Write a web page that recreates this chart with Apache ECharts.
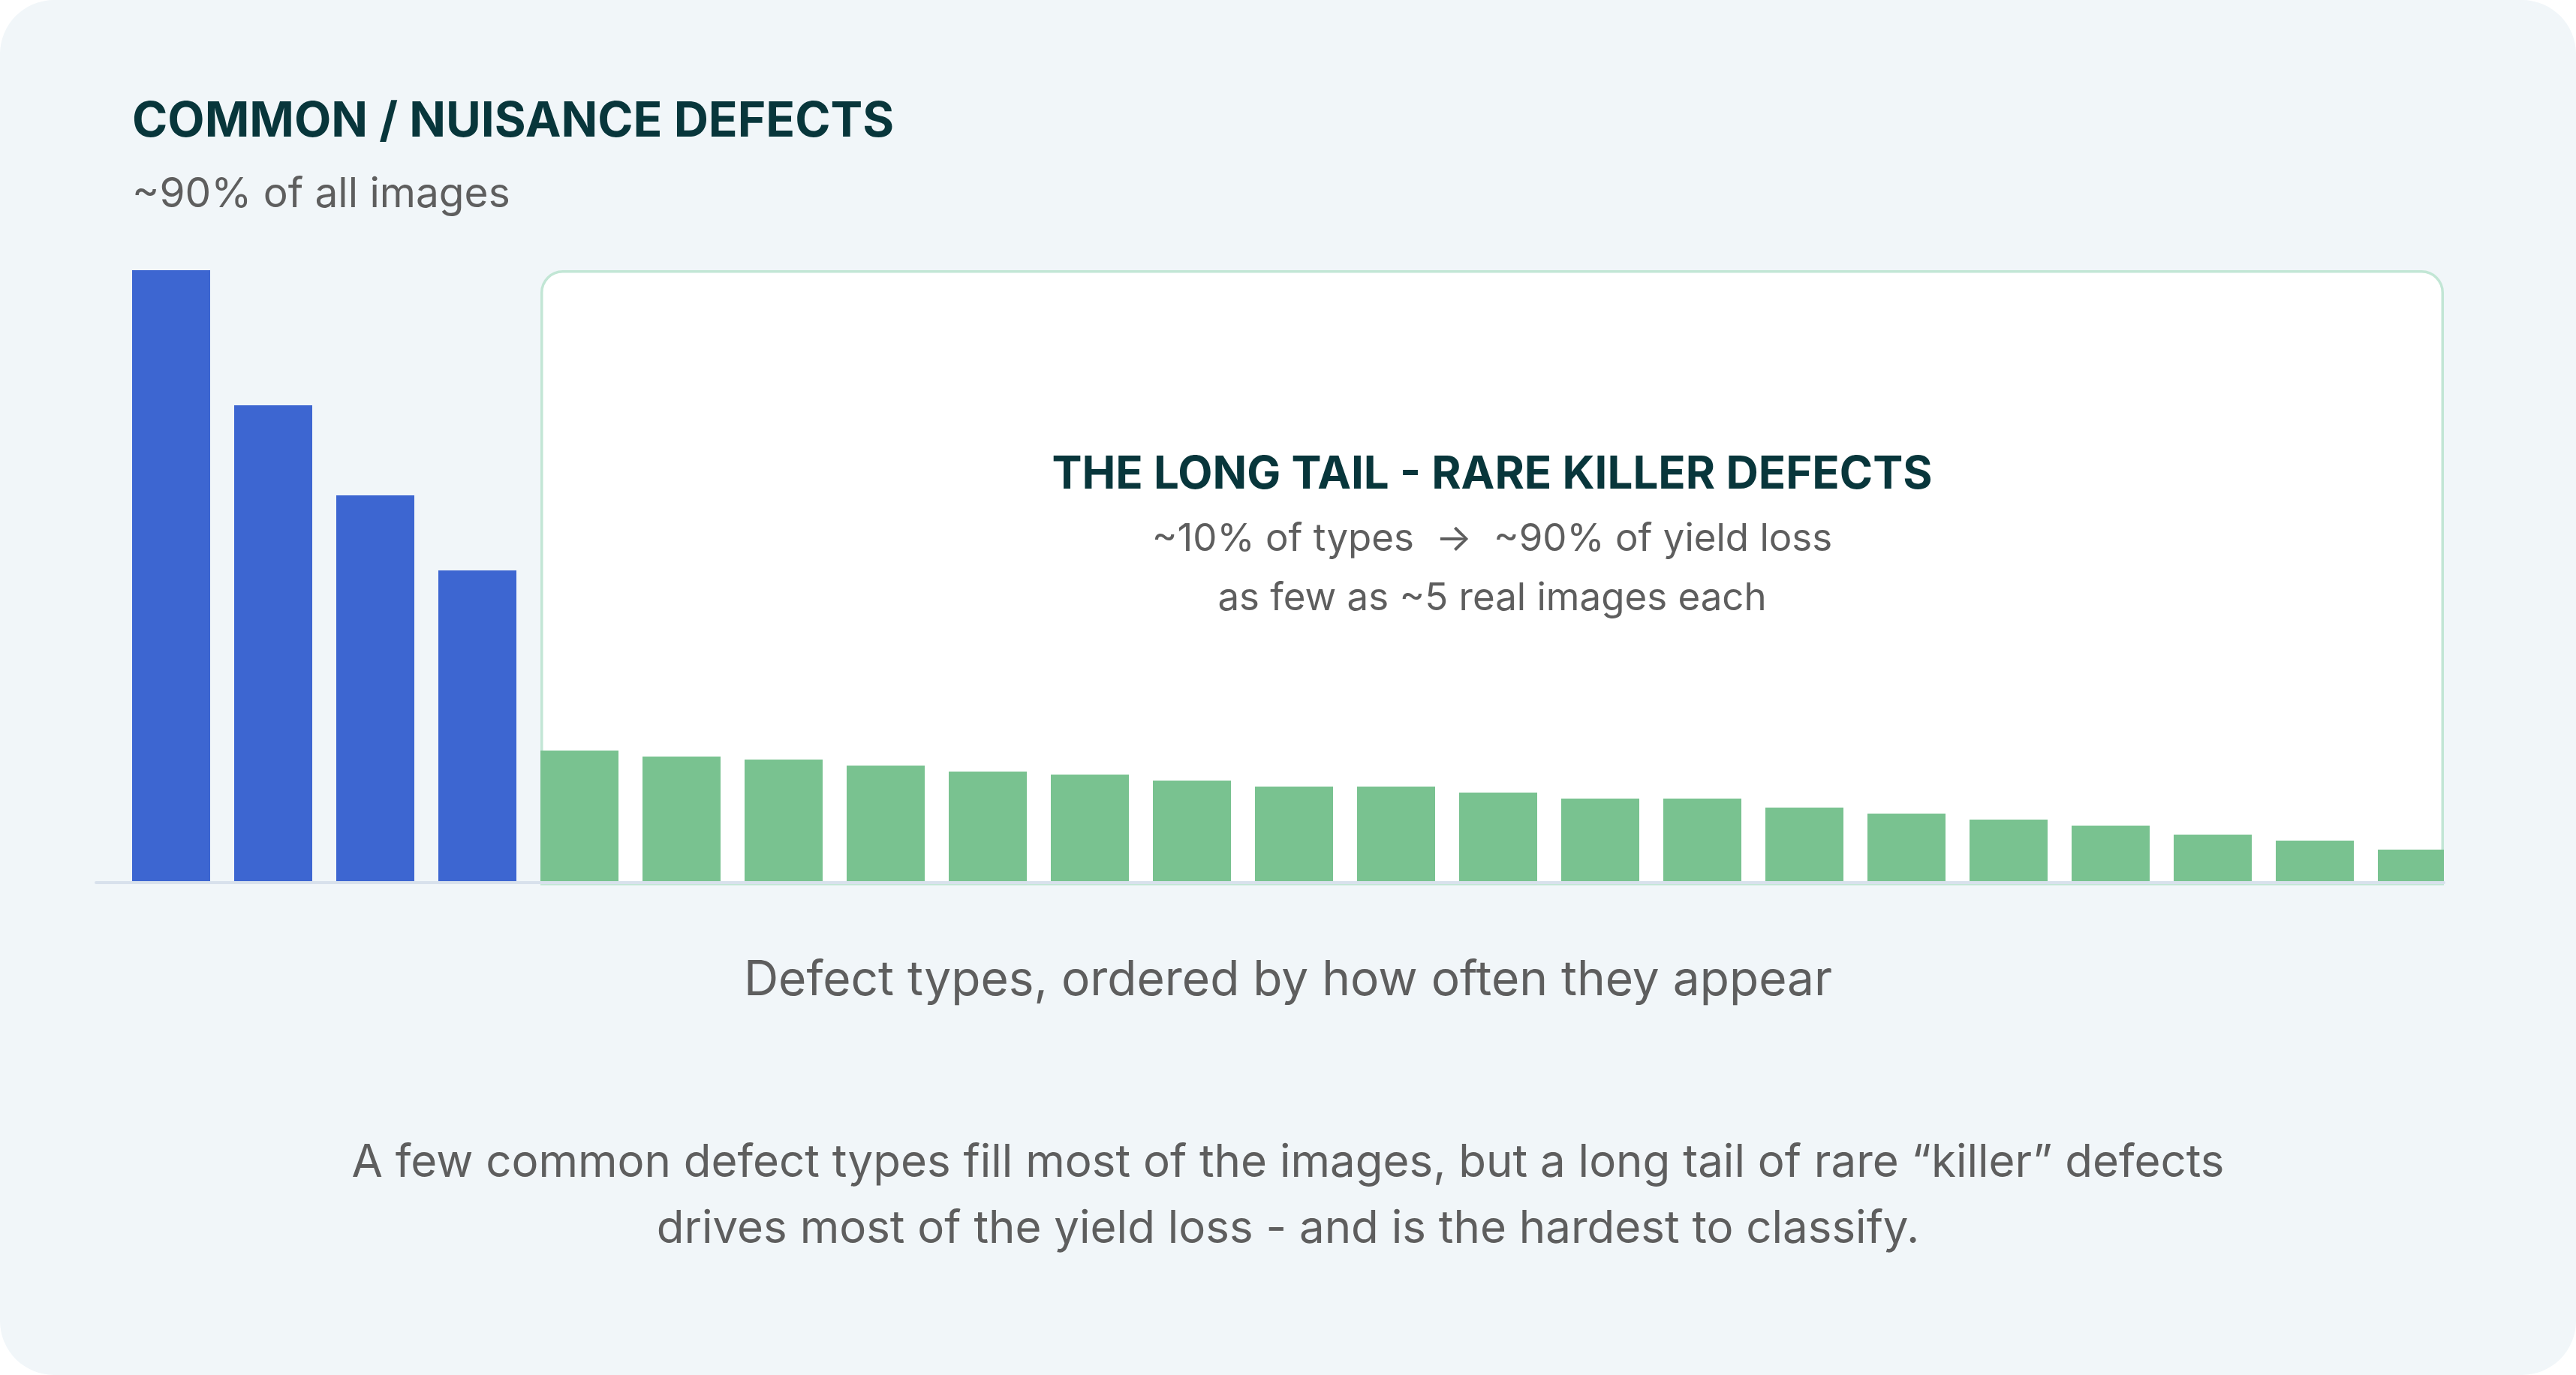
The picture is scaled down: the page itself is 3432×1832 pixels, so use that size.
<!DOCTYPE html>
<html><head><meta charset="utf-8">
<script src="https://cdn.jsdelivr.net/npm/echarts@6/dist/echarts.min.js"></script>
<style>
html,body{margin:0;padding:0;background:#ffffff;}
#chart{width:3432px;height:1832px;border-radius:72px;background:#f1f6f9;overflow:hidden;}
</style></head><body><div id="chart"></div>
<script>
// ---- data ----
const commonTitle = 'COMMON / NUISANCE DEFECTS';
const commonSub = '~90% of all images';
const tailTitle = 'THE LONG TAIL - RARE KILLER DEFECTS';
const tailLines = ['~10% of types  \u2192  ~90% of yield loss', 'as few as ~5 real images each'];
const axisTitle = 'Defect types, ordered by how often they appear';
const captionLines = [
  'A few common defect types fill most of the images, but a long tail of rare \u201ckiller\u201d defects',
  'drives most of the yield loss - and is the hardest to classify.'
];
const commonCounts = [102, 79.5, 64.5, 52];
const tailCounts = [22, 21, 20.5, 19.5, 18.5, 18, 17, 16, 16, 15, 14, 14, 12.5, 11.5, 10.5, 9.5, 8, 7, 5.5];

// ---- chart ----
const BLUE = '#3d66d1', GREEN = '#79c290', DARK = '#08363b', GRAY = '#5e5e5e', BG = '#f1f6f9';
const FONT = 'Inter';
const allCounts = commonCounts.concat(tailCounts);
const xMin = -0.7353, xMax = xMin + allCounts.length;
const yMax = Math.max.apply(null, allCounts);
const BW = 104;

const chart = echarts.init(document.getElementById('chart'), null, {renderer: 'svg'});
chart.setOption({
  backgroundColor: 'transparent',
  animation: false,
  grid: {left: 128, right: 176, top: 360, bottom: 656},
  xAxis: {
    type: 'value', min: xMin, max: xMax, offset: 2, z: 6,
    axisLine: {show: true, lineStyle: {color: '#d8e1ec', width: 4}},
    axisTick: {show: false}, axisLabel: {show: false}, splitLine: {show: false}
  },
  yAxis: {type: 'value', min: 0, max: yMax, show: false, splitLine: {show: false}},
  series: [{
    type: 'bar', barWidth: BW, clip: true, z: 3,
    data: allCounts.map((v, i) => ({value: [i, v], itemStyle: {color: i < commonCounts.length ? BLUE : GREEN}}))
  }]
});

const x0 = chart.convertToPixel({xAxisIndex: 0}, commonCounts.length) - BW / 2;
const x1 = chart.convertToPixel({xAxisIndex: 0}, xMax);
const yTop = chart.convertToPixel({yAxisIndex: 0}, yMax);
const yBot = chart.convertToPixel({yAxisIndex: 0}, 0);
const cx = (x0 + x1) / 2;
const pageCx = 3432 / 2;

function txt(x, y, s, size, weight, color, align) {
  return {type: 'text', x: x, y: y, z: 10, silent: true,
    style: {text: s, fontFamily: FONT, fontSize: size, fontWeight: weight, fill: color,
      align: align || 'center', verticalAlign: 'middle'}};
}

chart.setOption({
  graphic: [
    {type: 'rect', z: 0, silent: true,
      shape: {x: x0 + 1.75, y: yTop + 1.75, width: x1 - x0 - 3.5, height: yBot - yTop, r: [28, 28, 0, 0]},
      style: {fill: '#ffffff', stroke: '#c2e6d5', lineWidth: 3.5}},
    // clip the plot at the end of the axis
    {type: 'rect', z: 5, silent: true,
      shape: {x: x1, y: yTop, width: BW, height: yBot - yTop + 6},
      style: {fill: BG}},
    txt(176, 158, commonTitle, 64, 700, DARK, 'left'),
    txt(176, 256, commonSub, 55, 400, GRAY, 'left'),
    txt(cx, 629, tailTitle, 60, 700, DARK),
    txt(cx, 715, tailLines[0], 51, 400, GRAY),
    txt(cx, 794, tailLines[1], 51, 400, GRAY),
    txt(pageCx, 1302, axisTitle, 64, 400, GRAY),
    txt(pageCx, 1546, captionLines[0], 60, 400, GRAY),
    txt(pageCx, 1634, captionLines[1], 60, 400, GRAY)
  ]
});
</script></body></html>
